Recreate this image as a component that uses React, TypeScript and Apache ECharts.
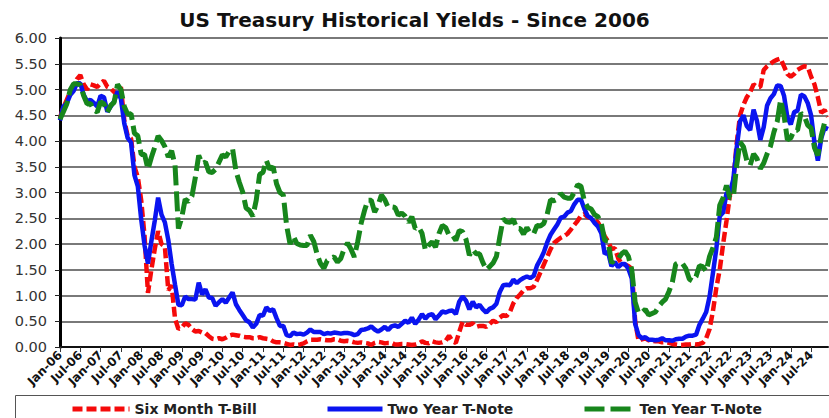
import React, { useEffect, useRef } from "react";
import * as echarts from "echarts";

const MONTHS = ["Jan", "Feb", "Mar", "Apr", "May", "Jun", "Jul", "Aug", "Sep", "Oct", "Nov", "Dec"];
const YEARS = [2006, 2007, 2008, 2009, 2010, 2011, 2012, 2013, 2014, 2015, 2016, 2017, 2018, 2019, 2020, 2021, 2022, 2023, 2024];
const categories: string[] = [];
YEARS.forEach((y) => MONTHS.forEach((m) => categories.push(m + "-" + String(y % 100).padStart(2, "0"))));

const TITLE = "US Treasury Historical Yields - Since 2006";
const SERIES_NAMES = ["Six Month T-Bill", "Two Year T-Note", "Ten Year T-Note"];

// Monthly values, Jan-06 .. Dec-24
const sixMonth = [
  4.45, 4.65, 4.80, 4.95, 5.05, 5.20, 5.28, 5.10, 5.00, 5.10, 5.08, 5.05,
  5.12, 5.17, 5.05, 5.02, 4.95, 4.90, 5.05, 4.40, 4.10, 4.05, 3.50, 3.30,
  2.85, 2.15, 1.05, 1.50, 1.90, 2.25, 2.00, 1.95, 1.10, 1.20, 0.55, 0.35,
  0.38, 0.46, 0.43, 0.35, 0.30, 0.31, 0.28, 0.27, 0.21, 0.16, 0.15, 0.17,
  0.15, 0.18, 0.22, 0.24, 0.23, 0.22, 0.20, 0.19, 0.19, 0.17, 0.17, 0.19,
  0.17, 0.16, 0.15, 0.11, 0.09, 0.09, 0.08, 0.06, 0.04, 0.05, 0.04, 0.05,
  0.07, 0.11, 0.14, 0.14, 0.14, 0.15, 0.14, 0.13, 0.13, 0.15, 0.15, 0.12,
  0.11, 0.12, 0.11, 0.09, 0.08, 0.09, 0.08, 0.07, 0.04, 0.08, 0.10, 0.09,
  0.07, 0.08, 0.08, 0.05, 0.05, 0.06, 0.06, 0.05, 0.04, 0.05, 0.07, 0.11,
  0.08, 0.07, 0.11, 0.09, 0.08, 0.09, 0.12, 0.22, 0.11, 0.08, 0.29, 0.49,
  0.43, 0.43, 0.46, 0.39, 0.41, 0.41, 0.39, 0.45, 0.51, 0.48, 0.57, 0.62,
  0.60, 0.68, 0.85, 0.95, 1.02, 1.10, 1.14, 1.14, 1.17, 1.30, 1.45, 1.60,
  1.75, 1.90, 2.02, 2.07, 2.12, 2.15, 2.20, 2.28, 2.37, 2.45, 2.55, 2.58,
  2.52, 2.50, 2.48, 2.42, 2.30, 2.15, 2.05, 1.90, 1.92, 1.72, 1.62, 1.60,
  1.57, 1.52, 0.50, 0.12, 0.15, 0.17, 0.13, 0.12, 0.11, 0.11, 0.09, 0.09,
  0.08, 0.06, 0.05, 0.04, 0.04, 0.05, 0.05, 0.06, 0.05, 0.06, 0.08, 0.17,
  0.35, 0.70, 1.15, 1.50, 2.00, 2.45, 2.95, 3.20, 3.95, 4.50, 4.70, 4.85,
  4.95, 5.10, 5.05, 5.05, 5.38, 5.45, 5.50, 5.55, 5.58, 5.60, 5.45, 5.30,
  5.25, 5.30, 5.38, 5.42, 5.45, 5.44, 5.25, 5.10, 4.85, 4.55, 4.60, 4.47,
];

const twoYear = [
  4.40, 4.67, 4.73, 4.89, 4.97, 5.12, 5.12, 4.90, 4.77, 4.80, 4.74, 4.67,
  4.88, 4.85, 4.57, 4.67, 4.77, 4.96, 4.82, 4.34, 4.06, 3.97, 3.34, 3.12,
  2.48, 1.97, 1.62, 2.05, 2.45, 2.90, 2.57, 2.42, 2.08, 1.61, 1.21, 0.82,
  0.81, 0.98, 0.93, 0.93, 0.92, 1.25, 1.02, 1.12, 0.96, 0.95, 0.80, 0.87,
  0.93, 0.86, 0.96, 1.06, 0.83, 0.72, 0.62, 0.52, 0.48, 0.38, 0.45, 0.62,
  0.61, 0.77, 0.70, 0.73, 0.56, 0.41, 0.41, 0.23, 0.21, 0.28, 0.25, 0.26,
  0.24, 0.28, 0.34, 0.29, 0.29, 0.29, 0.25, 0.27, 0.26, 0.28, 0.27, 0.26,
  0.27, 0.27, 0.26, 0.23, 0.25, 0.33, 0.34, 0.36, 0.40, 0.34, 0.30, 0.34,
  0.39, 0.33, 0.40, 0.42, 0.39, 0.45, 0.51, 0.47, 0.57, 0.45, 0.53, 0.64,
  0.55, 0.62, 0.64, 0.54, 0.61, 0.69, 0.67, 0.70, 0.71, 0.64, 0.88, 0.98,
  0.90, 0.73, 0.88, 0.77, 0.82, 0.73, 0.67, 0.74, 0.77, 0.84, 1.07, 1.20,
  1.21, 1.20, 1.31, 1.24, 1.30, 1.34, 1.37, 1.34, 1.38, 1.58, 1.70, 1.84,
  2.03, 2.18, 2.28, 2.38, 2.51, 2.53, 2.61, 2.64, 2.77, 2.86, 2.86, 2.68,
  2.54, 2.50, 2.41, 2.34, 2.21, 1.81, 1.84, 1.57, 1.65, 1.55, 1.61, 1.61,
  1.52, 1.33, 0.45, 0.23, 0.17, 0.19, 0.14, 0.14, 0.13, 0.14, 0.17, 0.13,
  0.13, 0.12, 0.15, 0.16, 0.16, 0.20, 0.22, 0.22, 0.24, 0.43, 0.55, 0.68,
  0.98, 1.44, 1.91, 2.54, 2.61, 2.99, 3.00, 3.25, 3.86, 4.38, 4.50, 4.29,
  4.21, 4.61, 4.39, 4.02, 4.27, 4.69, 4.83, 4.91, 5.08, 5.07, 4.88, 4.46,
  4.32, 4.56, 4.59, 4.90, 4.87, 4.74, 4.50, 3.97, 3.62, 4.05, 4.26, 4.23,
];

const tenYear = [
  4.42, 4.57, 4.72, 4.99, 5.11, 5.11, 5.09, 4.88, 4.72, 4.73, 4.60, 4.56,
  4.76, 4.72, 4.56, 4.69, 4.75, 5.10, 5.00, 4.67, 4.52, 4.53, 4.15, 4.10,
  3.74, 3.74, 3.45, 3.68, 3.88, 4.10, 4.01, 3.89, 3.69, 3.81, 3.53, 2.30,
  2.52, 2.87, 2.82, 2.93, 3.29, 3.72, 3.56, 3.59, 3.40, 3.39, 3.45, 3.59,
  3.73, 3.69, 3.80, 3.85, 3.42, 3.20, 3.01, 2.70, 2.65, 2.54, 2.85, 3.35,
  3.39, 3.62, 3.45, 3.50, 3.17, 3.00, 2.95, 2.35, 2.00, 2.15, 2.01, 1.98,
  1.97, 1.97, 2.17, 2.05, 1.80, 1.62, 1.53, 1.68, 1.72, 1.75, 1.65, 1.72,
  1.91, 2.02, 1.90, 1.75, 2.05, 2.40, 2.65, 2.85, 2.85, 2.62, 2.75, 2.95,
  2.86, 2.71, 2.72, 2.71, 2.56, 2.60, 2.54, 2.42, 2.53, 2.30, 2.33, 2.21,
  1.88, 1.98, 2.04, 1.94, 2.20, 2.36, 2.32, 2.17, 2.17, 2.07, 2.26, 2.24,
  2.09, 1.78, 1.89, 1.81, 1.81, 1.64, 1.50, 1.56, 1.63, 1.76, 2.14, 2.49,
  2.43, 2.42, 2.48, 2.30, 2.30, 2.19, 2.32, 2.21, 2.20, 2.36, 2.35, 2.40,
  2.58, 2.86, 2.84, 2.87, 2.98, 2.91, 2.89, 2.89, 3.00, 3.15, 3.12, 2.83,
  2.71, 2.68, 2.57, 2.53, 2.40, 2.07, 2.06, 1.63, 1.70, 1.71, 1.81, 1.86,
  1.76, 1.50, 0.87, 0.66, 0.67, 0.73, 0.62, 0.65, 0.68, 0.79, 0.87, 0.93,
  1.08, 1.26, 1.61, 1.64, 1.62, 1.52, 1.32, 1.28, 1.37, 1.58, 1.56, 1.47,
  1.76, 1.93, 2.13, 2.75, 2.90, 3.14, 2.90, 2.90, 3.52, 3.98, 3.89, 3.62,
  3.53, 3.75, 3.66, 3.46, 3.57, 3.75, 3.90, 4.17, 4.38, 4.80, 4.50, 4.02,
  4.06, 4.21, 4.21, 4.54, 4.48, 4.31, 4.25, 3.87, 3.72, 4.10, 4.36, 4.39,
];

const FONT = "DejaVu Sans";
const RED = "#f50a0a";
const BLUE = "#0a14f0";
const GREEN = "#17861c";

export default function App() {
  const ref = useRef<HTMLDivElement>(null);

  useEffect(() => {
    if (!ref.current) return;
    const chart = echarts.init(ref.current, null, { renderer: "svg" });
    const showEvery6 = (i: number) => i % 6 === 0;
    const legendText = { fontFamily: FONT, fontWeight: "bold", fontSize: 14, color: "#222" };
    const makeLegend = (name: string, left: number, w: number) => ({
      data: [name],
      left,
      top: 402,
      padding: 0,
      itemWidth: w,
      itemHeight: 13,
      textStyle: legendText,
      itemStyle: { opacity: 0 },
      lineStyle: { width: 5 },
    });
    chart.setOption({
      animation: false,
      backgroundColor: "#ffffff",
      title: {
        text: TITLE,
        left: "center",
        top: 5,
        textStyle: { fontFamily: FONT, fontWeight: "bold", fontSize: 20, color: "#111" },
      },
      grid: { left: 60, right: 1, top: 38, bottom: 71 },
      legend: [
        makeLegend(SERIES_NAMES[0], 70, 57),
        makeLegend(SERIES_NAMES[1], 325, 55),
        makeLegend(SERIES_NAMES[2], 582, 50),
      ],
      graphic: [
        {
          type: "rect",
          z: -1,
          shape: { x: 15.5, y: 395.5, width: 830, height: 40 },
          style: { fill: "none", stroke: "#555", lineWidth: 1 },
        },
      ],
      xAxis: {
        type: "category",
        data: categories,
        boundaryGap: false,
        axisLine: { lineStyle: { color: "#111", width: 2 } },
        axisTick: { interval: showEvery6, length: 5, lineStyle: { color: "#333" } },
        axisLabel: {
          interval: showEvery6,
          rotate: 45,
          margin: 6,
          fontFamily: FONT,
          fontWeight: "bold",
          fontSize: 12,
          color: "#111",
        },
        splitLine: { show: false },
      },
      yAxis: {
        type: "value",
        min: 0,
        max: 6,
        interval: 0.5,
        axisLine: { show: true, lineStyle: { color: "#000", width: 3 } },
        axisTick: { show: true, length: 5, lineStyle: { color: "#222" } },
        axisLabel: {
          formatter: (v: number) => v.toFixed(2),
          fontFamily: FONT,
          fontSize: 14.5,
          color: "#333",
          margin: 13,
        },
        splitLine: { lineStyle: { color: "#4d4d4d", width: 1.5 } },
      },
      series: [
        {
          name: SERIES_NAMES[0],
          type: "line",
          data: sixMonth,
          symbol: "none",
          color: RED,
          lineStyle: { color: RED, width: 4.5, type: [10, 4] },
        },
        {
          name: SERIES_NAMES[1],
          type: "line",
          data: twoYear,
          symbol: "none",
          color: BLUE,
          lineStyle: { color: BLUE, width: 4.5, type: "solid" },
        },
        {
          name: SERIES_NAMES[2],
          type: "line",
          data: tenYear,
          symbol: "none",
          color: GREEN,
          lineStyle: { color: GREEN, width: 5, type: [20, 6] },
        },
      ],
    });
    return () => chart.dispose();
  }, []);

  return (
    <div
      ref={ref}
      style={{ position: "fixed", left: 0, top: 0, width: 829, height: 418, background: "#fff" }}
    />
  );
}
